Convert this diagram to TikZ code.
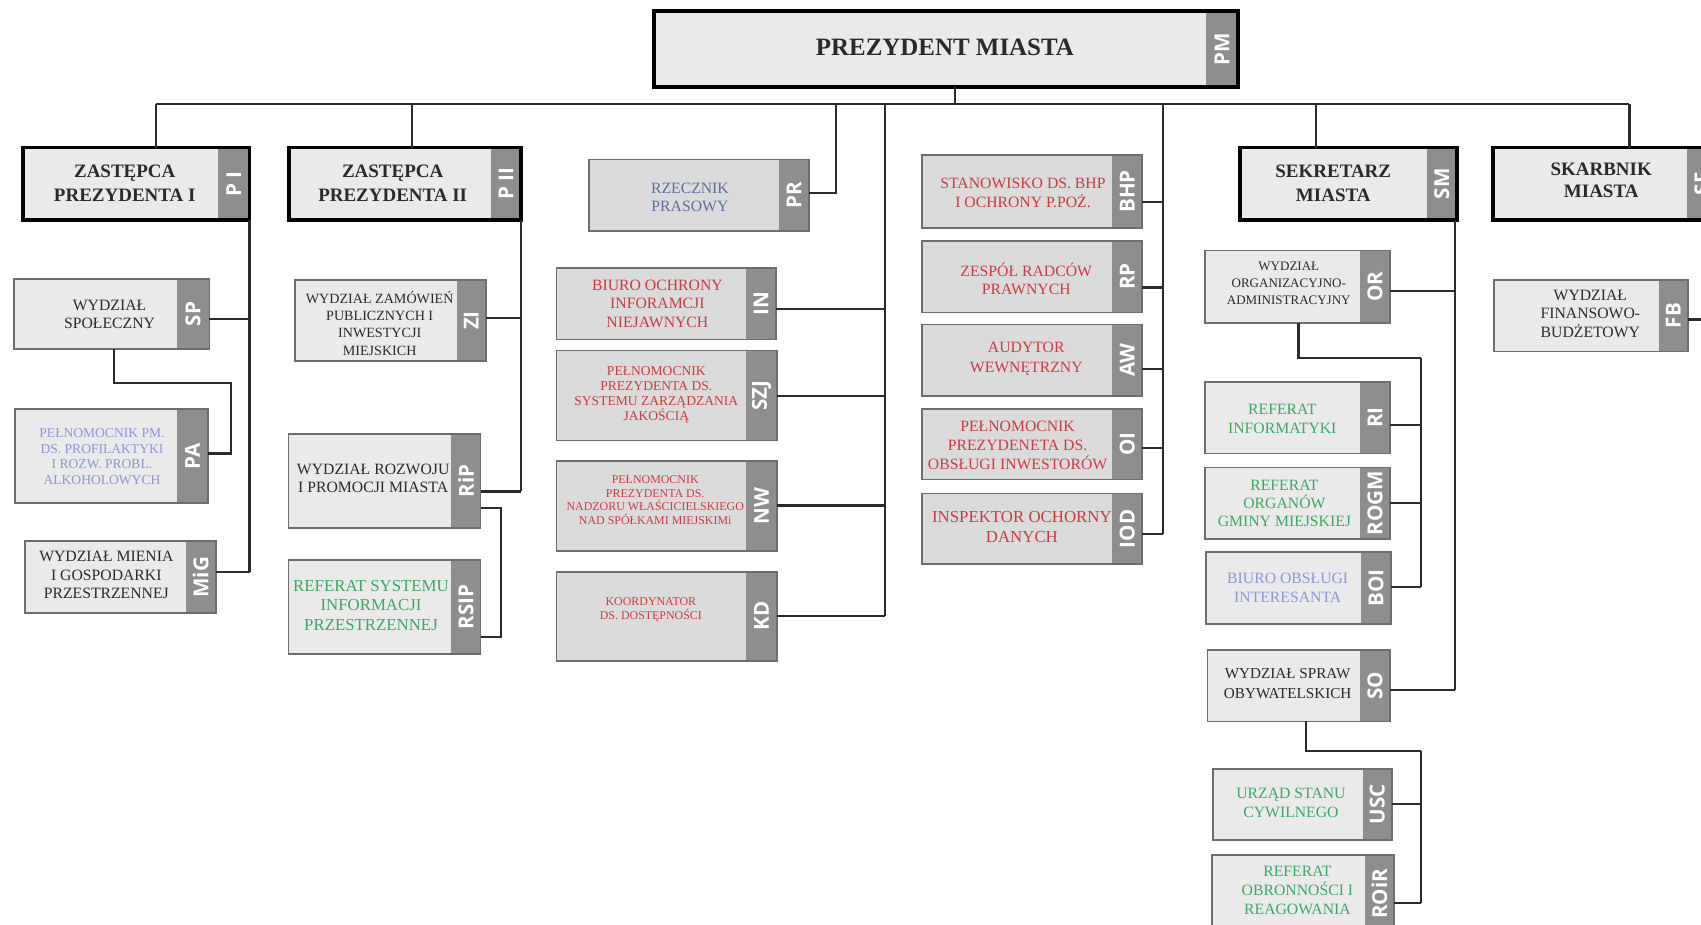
\documentclass[tikz,border=0pt]{standalone}
\usepackage{fontspec}
\setmainfont{Liberation Serif}
\newfontfamily\tagfont{Open Sans}
\usetikzlibrary{calc}
\definecolor{fillL}{HTML}{EAEAEA}
\definecolor{fillD}{HTML}{DBDBDB}
\definecolor{tagc}{HTML}{8E8E8E}
\definecolor{bline}{HTML}{6E6E6E}
\definecolor{cline}{HTML}{2B2B2B}
\definecolor{tdark}{HTML}{2A2A2A}
\definecolor{tred}{HTML}{CC3A40}
\definecolor{tblue}{HTML}{5A6EA0}
\definecolor{tlblue}{HTML}{8C98D8}
\definecolor{tgreen}{HTML}{3CA862}
\tikzset{
 nb/.style={fill=fillL}, nb line/.style={draw=bline,line width=1.6pt},
 db/.style={fill=fillD}, db line/.style={draw=bline,line width=1.6pt},
 tb/.style={fill=fillL}, tb line/.style={draw=black,line width=3.6pt},
 tagbg/.style={fill=tagc,inner sep=0pt,outer sep=0pt},
 code/.style={text=white,rotate=90,inner sep=0pt,font=\tagfont\bfseries\fontsize{19}{19}\selectfont},
 conn/.style={draw=cline,line width=2pt},
 lbl/.style={align=center,inner sep=0pt,text=tdark},
 fA/.style={font=\fontsize{14.5}{17}\selectfont},
 fH/.style={font=\bfseries\fontsize{17.5}{22}\selectfont},
}
\newcommand\obox[8]{%
 \pgfmathsetmacro\bw{#4-#2}\pgfmathsetmacro\bh{#5-#3}%
 \pgfmathsetmacro\bx{(#2+#4)/2}\pgfmathsetmacro\by{(#3+#5)/2}%
 \pgfmathsetmacro\tx{#4-#7/2}%
 \node[#6,inner sep=0pt,outer sep=0pt,minimum width=\bw pt,minimum height=\bh pt] (#1) at (\bx,\by) {};%
 \node[tagbg,minimum width=#7 pt,minimum height=\bh pt] (#1-tag) at (\tx,\by) {};%
 \node[code] (#1-code) at (#1-tag.center) {#8};%
 \draw[#6 line] (#1.south west) rectangle (#1.north east);%
}
\newcommand\branch[4]{\coordinate (#4) at ([yshift=#2pt]#1.east); \draw[conn] (#4) -- (#4 -| #3);}
\begin{document}
\begin{tikzpicture}[x=1pt,y=-1pt]
\path[use as bounding box] (0,0) rectangle (1568,852);
\clip (0,0) rectangle (1568,852);
\fill[white] (0,0) rectangle (1568,852);
% boxes
\obox{PM}{603}{10}{1141}{80}{tb}{29}{PM}
\obox{Z1}{21}{136}{230}{203}{tb}{29}{P I}
\obox{Z2}{266}{136}{480}{203}{tb}{27}{P II}
\obox{SM}{1143}{136}{1343}{203}{tb}{28}{SM}
\obox{SK}{1376}{136}{1583}{203}{tb}{28}{SF}
\obox{SP}{13}{257}{193}{322}{nb}{30}{SP}
\obox{PA}{14}{377}{192}{464}{nb}{29}{PA}
\obox{MiG}{23}{499}{199}{565}{nb}{28}{MiG}
\obox{ZI}{272}{258}{448}{333}{nb}{27}{ZI}
\obox{RiP}{266}{400}{443}{487}{nb}{27}{RiP}
\obox{RSIP}{266}{516}{443}{603}{nb}{27}{RSIP}
\obox{PR}{543}{147}{746}{213}{db}{28}{PR}
\obox{IN}{513}{247}{715}{313}{db}{27}{IN}
\obox{SZJ}{513}{323}{716}{406}{db}{28}{SZJ}
\obox{NW}{513}{425}{716}{508}{db}{28}{NW}
\obox{KD}{513}{527}{716}{609}{db}{28}{KD}
\obox{BHP}{850}{143}{1053}{210}{db}{28}{BHP}
\obox{RP}{850}{222}{1053}{288}{db}{28}{RP}
\obox{AW}{850}{299}{1053}{365}{db}{28}{AW}
\obox{OI}{850}{377}{1053}{442}{db}{28}{OI}
\obox{IOD}{850}{455}{1053}{520}{db}{28}{IOD}
\obox{OR}{1111}{231}{1281}{298}{nb}{27}{OR}
\obox{RI}{1111}{352}{1281}{418}{nb}{27}{RI}
\obox{ROGM}{1111}{431}{1281}{497}{nb}{27}{ROGM}
\obox{BOI}{1112}{509}{1282}{575}{nb}{27}{BOI}
\obox{SO}{1113}{599}{1281}{665}{nb}{27}{SO}
\obox{USC}{1118}{709}{1283}{774}{nb}{27}{USC}
\obox{ROiR}{1117}{788}{1285}{860}{nb}{27}{ROiR}
\obox{FB}{1377}{258}{1556}{324}{nb}{27}{FB}
% texts
\node[lbl,font=\bfseries\fontsize{23}{26}\selectfont] (PM-t) at (871,44) {PREZYDENT MIASTA};
\node[lbl,fH] (Z1-t) at (115,169) {ZASTĘPCA\\PREZYDENTA I};
\node[lbl,fH] (Z2-t) at (362,169) {ZASTĘPCA\\PREZYDENTA II};
\node[lbl,fH] (SM-t) at (1229,169) {SEKRETARZ\\MIASTA};
\node[lbl,font=\bfseries\fontsize{17.5}{20}\selectfont] (SK-t) at (1476,166) {SKARBNIK\\MIASTA};
\node[lbl,fA] (SP-t) at (101,290) {WYDZIAŁ\\SPOŁECZNY};
\node[lbl,text=tlblue,font=\fontsize{12.5}{14.5}\selectfont] (PA-t) at (94,421) {PEŁNOMOCNIK PM.\\DS. PROFILAKTYKI\\I ROZW. PROBL.\\ALKOHOLOWYCH};
\node[lbl,fA] (MiG-t) at (98,530) {WYDZIAŁ MIENIA\\I GOSPODARKI\\PRZESTRZENNEJ};
\node[lbl,font=\fontsize{13}{16}\selectfont] (ZI-t) at (350,298) {WYDZIAŁ ZAMÓWIEŃ\\PUBLICZNYCH I\\INWESTYCJI\\MIEJSKICH};
\node[lbl,fA] (RiP-t) at (344,441) {WYDZIAŁ ROZWOJU\\I PROMOCJI MIASTA};
\node[lbl,text=tgreen,font=\fontsize{15.5}{18}\selectfont] (RSIP-t) at (342,558) {REFERAT SYSTEMU\\INFORMACJI\\PRZESTRZENNEJ};
\node[lbl,fA,text=tblue] (PR-t) at (636,182) {RZECZNIK\\PRASOWY};
\node[lbl,fA,text=tred] (IN-t) at (606,280) {BIURO OCHRONY\\INFORAMCJI\\NIEJAWNYCH};
\node[lbl,text=tred,font=\fontsize{12.5}{14}\selectfont] (SZJ-t) at (605,364) {PEŁNOMOCNIK\\PREZYDENTA DS.\\SYSTEMU ZARZĄDZANIA\\JAKOŚCIĄ};
\node[lbl,text=tred,font=\fontsize{11}{12.7}\selectfont] (NW-t) at (604,461) {PEŁNOMOCNIK\\PREZYDENTA DS.\\NADZORU WŁAŚCICIELSKIEGO\\NAD SPÓŁKAMI MIEJSKIMi};
\node[lbl,text=tred,font=\fontsize{11}{13}\selectfont] (KD-t) at (600,562) {KOORDYNATOR\\DS. DOSTĘPNOŚCI};
\node[lbl,fA,text=tred] (BHP-t) at (943,178) {STANOWISKO DS. BHP\\I OCHRONY P.POŻ.};
\node[lbl,fA,text=tred] (RP-t) at (946,257) {ZESPÓŁ RADCÓW\\PRAWNYCH};
\node[lbl,fA,text=tred,font=\fontsize{14.5}{18}\selectfont] (AW-t) at (946,331) {AUDYTOR\\WEWNĘTRZNY};
\node[lbl,text=tred,font=\fontsize{14.5}{17.5}\selectfont] (OI-t) at (938,411) {PEŁNOMOCNIK\\PREZYDENETA DS.\\OBSŁUGI INWESTORÓW};
\node[lbl,text=tred,font=\fontsize{15.5}{18}\selectfont] (IOD-t) at (942,486) {INSPEKTOR OCHORNY\\DANYCH};
\node[lbl,font=\fontsize{12}{15.5}\selectfont] (OR-t) at (1188,261) {WYDZIAŁ\\ORGANIZACYJNO-\\ADMINISTRACYJNY};
\node[lbl,fA,text=tgreen] (RI-t) at (1182,386) {REFERAT\\INFORMATYKI};
\node[lbl,fA,text=tgreen] (ROGM-t) at (1184,464) {REFERAT\\ORGANÓW\\GMINY MIEJSKIEJ};
\node[lbl,fA,text=tlblue] (BOI-t) at (1187,542) {BIURO OBSŁUGI\\INTERESANTA};
\node[lbl,font=\fontsize{14}{18}\selectfont] (SO-t) at (1187,630) {WYDZIAŁ SPRAW\\OBYWATELSKICH};
\node[lbl,fA,text=tgreen] (USC-t) at (1190,740) {URZĄD STANU\\CYWILNEGO};
\node[lbl,text=tgreen,font=\fontsize{14.5}{17.5}\selectfont] (ROiR-t) at (1196,821) {REFERAT\\OBRONNOŚCI I\\REAGOWANIA};
\node[lbl,fA] (FB-t) at (1466,289) {WYDZIAŁ\\FINANSOWO-\\BUDŻETOWY};
% top bus
\coordinate (busL) at (144,96); \coordinate (busR) at (1502,96);
\coordinate (b2) at (380,96); \coordinate (b3) at (771,96);
\coordinate (b4) at (816,96); \coordinate (b5) at (1072,96); \coordinate (b6) at (1213,96);
\coordinate (pmS) at ([xshift=8pt]PM.south);
\draw[conn] (busL) -- (busR);
\draw[conn] (pmS) -- (pmS |- busL);
\draw[conn] (busL) -- (busL |- Z1.north);
\draw[conn] (b2) -- (b2 |- Z2.north);
\draw[conn] (b3) |- ([yshift=2pt]PR.east);
\draw[conn] (b6) -- (b6 |- SM.north);
\draw[conn] (busR) -- (busR |- SK.north);
% column 1
\coordinate (z1d) at (Z1.south east);
\branch{SP}{-4.5}{z1d}{spB}
\branch{MiG}{5}{z1d}{migB}
\draw[conn] (z1d) -- (z1d |- migB);
\coordinate (paK) at (213,353);
\draw[conn] ([xshift=2pt]SP.south) |- (paK) |- ([yshift=2.5pt]PA.east);
% column 2
\coordinate (z2d) at (Z2.south east);
\branch{ZI}{2.5}{z2d}{ziB}
\branch{RiP}{-9.5}{z2d}{ripB}
\draw[conn] (z2d) -- (z2d |- ripB);
\coordinate (rsK) at (462,587);
\draw[conn] ([yshift=-24.5pt]RiP.east) -| (rsK) -- ([yshift=-27.5pt]RSIP.east);
% column 3
\branch{IN}{-5}{b4}{inB}
\branch{SZJ}{-0.5}{b4}{szjB}
\branch{NW}{0.5}{b4}{nwB}
\branch{KD}{0}{b4}{kdB}
\draw[conn] (b4) -- (b4 |- kdB);
% column 4
\branch{BHP}{-9.5}{b5}{bhpB}
\branch{RP}{-10}{b5}{rpB}
\branch{AW}{-8}{b5}{awB}
\branch{OI}{-3.5}{b5}{oiB}
\branch{IOD}{-4.5}{b5}{iodB}
\draw[conn] (b5) -- (b5 |- iodB);
% column 5
\coordinate (smd) at ([xshift=-2pt]SM.south east);
\branch{OR}{-3.5}{smd}{orB}
\branch{SO}{-4}{smd}{soB}
\draw[conn] (smd) -- (smd |- soB);
\coordinate (orK) at (1310,330);
\draw[conn] ([xshift=1pt]OR.south) |- (orK);
\branch{RI}{-7}{orK}{riB}
\branch{ROGM}{0}{orK}{rogmB}
\branch{BOI}{1}{orK}{boiB}
\draw[conn] (orK) -- (orK |- boiB);
\coordinate (soK) at (1310,692);
\draw[conn] ([xshift=7pt]SO.south) |- (soK);
\branch{USC}{0.5}{soK}{uscB}
\branch{ROiR}{-8}{soK}{roirB}
\draw[conn] (soK) -- (soK |- roirB);
% column 6
\coordinate (fbR) at (1590,294);
\branch{FB}{-3.5}{fbR}{fbB}
\end{tikzpicture}
\end{document}
